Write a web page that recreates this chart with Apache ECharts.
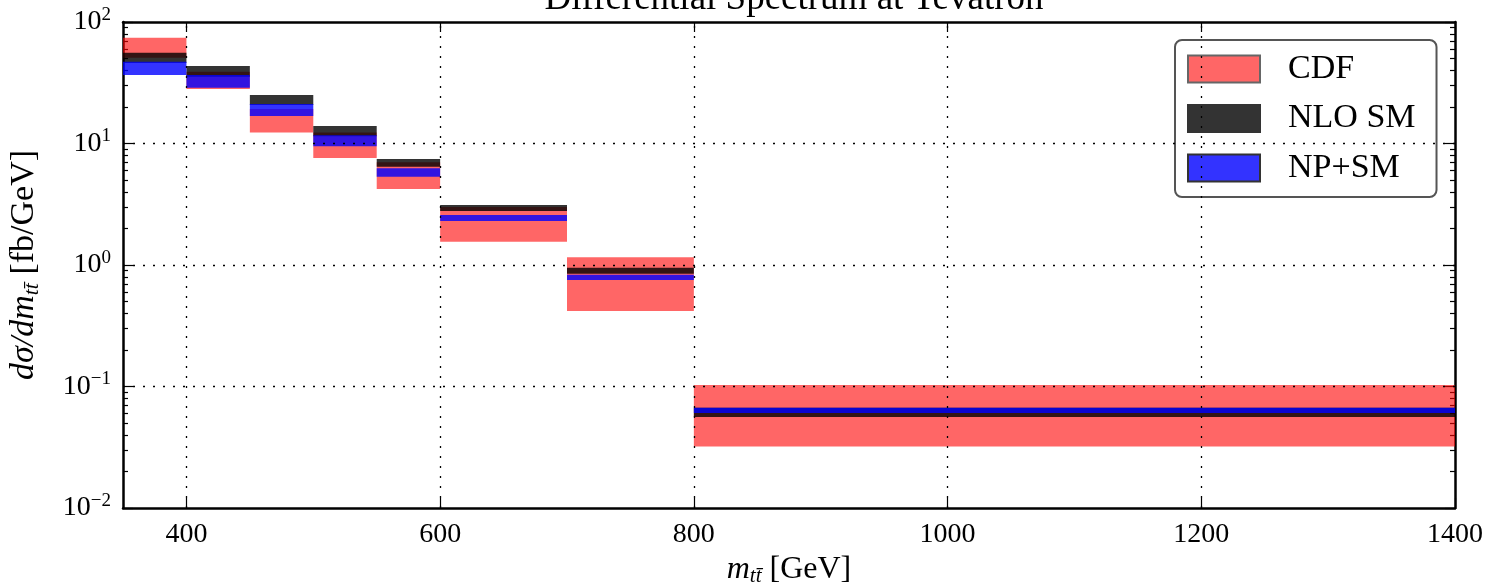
<!DOCTYPE html>
<html>
<head>
<meta charset="utf-8">
<script src="https://cdn.jsdelivr.net/npm/echarts@6/dist/echarts.min.js"></script>
<style>
  html, body { margin: 0; padding: 0; background: #fff; }
  #chart { width: 1495px; height: 583px; }
</style>
</head>
<body>
<div id="chart"></div>
<script>
// bin edges of m_tt [GeV]
const binLo = [350, 400, 450, 500, 550, 600, 700, 800]
const binHi = [400, 450, 500, 550, 600, 700, 800, 1400]

// bands [fb/GeV]
const cdfLo = [50.8, 28.1, 12.3, 7.6, 4.23, 1.55, 0.418, 0.032]
const cdfHi = [74.3, 39.0, 19.2, 12.3, 7.0, 3.0, 1.16, 0.1028]
const nloLo = [46.0, 35.5, 20.7, 11.5, 6.44, 2.78, 0.848, 0.0561]
const nloHi = [55.9, 43.5, 25.1, 13.9, 7.45, 3.12, 0.95, 0.067]
const npLo = [36.6, 28.8, 16.8, 9.5, 5.33, 2.30, 0.753, 0.0605]
const npHi = [47.1, 36.6, 21.1, 11.7, 6.25, 2.58, 0.831, 0.067]

const xTicks = [400, 600, 800, 1000, 1200, 1400]
const yGrid = [0.1, 1, 10]

const FONT = 'Liberation Serif'

// minor tick spots on the log axis (2..9 per decade)
let yMinor = []
for (let e = -2; e < 2; e++) {
  for (let m = 2; m < 10; m++) {
    yMinor.push(+(m * Math.pow(10, e)).toPrecision(3))
  }
}

function bandData(lo, hi) {
  let out = []
  for (let i = 0; i < binLo.length; i++) {
    out.push([binLo[i], binHi[i], lo[i], hi[i]])
  }
  return out
}

function bandRender(fill) {
  return function (params, api) {
    const p0 = api.coord([api.value(0), api.value(3)])
    const p1 = api.coord([api.value(1), api.value(2)])
    return {
      type: 'rect',
      shape: { x: p0[0], y: p0[1], width: p1[0] - p0[0], height: p1[1] - p0[1] },
      style: { fill: fill }
    }
  }
}

function bandSeries(name, lo, hi, fill) {
  return {
    name: name,
    type: 'custom',
    xAxisIndex: 0,
    yAxisIndex: 0,
    renderItem: bandRender(fill),
    encode: { x: [0, 1], y: [2, 3] },
    data: bandData(lo, hi),
    silent: true
  }
}

function supLabel(v) {
  const e = Math.round(Math.log10(v))
  return '{b|10}{s|' + (e < 0 ? '\u2212' + (-e) : e) + '}'
}

const gridDots = { color: '#000', width: 1.3, type: [2, 8] }
const spine = { show: true, lineStyle: { color: '#000', width: 2.5 } }
const nameRich = {
  i: { fontFamily: FONT, fontStyle: 'italic', fontSize: 32 },
  sub: { fontFamily: FONT, fontStyle: 'italic', fontSize: 21, padding: [14, 0, 0, 0] }
}
const yNameRich = {
  i: { fontFamily: FONT, fontStyle: 'italic', fontSize: 34 },
  sub: { fontFamily: FONT, fontStyle: 'italic', fontSize: 22, padding: [15, 0, 0, 0] }
}

const chart = echarts.init(document.getElementById('chart'))

chart.setOption({
  animation: false,
  title: {
    text: 'Differential Spectrum at Tevatron',
    left: 789,
    textAlign: 'center',
    top: -24,
    textStyle: { fontFamily: FONT, fontWeight: 'normal', fontSize: 37, color: '#000' }
  },
  legend: {
    orient: 'vertical',
    left: 1175,
    top: 40,
    padding: [12, 21, 12, 12],
    itemGap: 15.5,
    itemWidth: 72,
    itemHeight: 27,
    icon: 'rect',
    borderColor: '#555',
    borderWidth: 2,
    borderRadius: 7,
    backgroundColor: '#fff',
    textStyle: { fontFamily: FONT, fontSize: 34, color: '#000', padding: [0, 0, 0, 23], lineHeight: 27, height: 27 },
    data: [
      { name: 'CDF', itemStyle: { color: '#ff6666', borderColor: '#666', borderWidth: 2 } },
      { name: 'NLO SM', itemStyle: { color: '#333333', borderColor: '#333', borderWidth: 2 } },
      { name: 'NP+SM', itemStyle: { color: '#3333ff', borderColor: '#333', borderWidth: 2 } }
    ]
  },
  grid: { left: 123, right: 40, top: 22, bottom: 75, outerBoundsMode: 'none' },
  xAxis: [
    {
      type: 'value',
      position: 'bottom',
      min: 350,
      max: 1400,
      name: '{i|m}{sub|tt\u0304} [GeV]',
      nameLocation: 'middle',
      nameGap: 44,
      nameTextStyle: { fontFamily: FONT, fontSize: 32, color: '#000', rich: nameRich },
      axisLine: spine,
      axisTick: { show: true, inside: true, length: 10, customValues: xTicks, lineStyle: { color: '#000', width: 1.2 } },
      axisLabel: { customValues: xTicks, formatter: v => String(v), fontFamily: FONT, fontSize: 28, color: '#000', margin: 13 },
      splitLine: { show: false }
    },
    {
      type: 'value',
      position: 'top',
      min: 350,
      max: 1400,
      axisLine: spine,
      axisTick: { show: true, inside: true, length: 10, customValues: xTicks, lineStyle: { color: '#000', width: 1.2 } },
      axisLabel: { show: false },
      splitLine: { show: false }
    }
  ],
  yAxis: [
    {
      type: 'log',
      logBase: 10,
      position: 'left',
      offset: 0,
      min: 0.01,
      max: 100,
      name: '{i|d\u03c3/dm}{sub|tt\u0304} [fb/GeV]',
      nameLocation: 'middle',
      nameRotate: 90,
      nameGap: 80,
      nameTextStyle: { fontFamily: FONT, fontSize: 34, color: '#000', rich: yNameRich },
      axisLine: spine,
      axisTick: { show: true, inside: true, length: 10, lineStyle: { color: '#000', width: 1.2 } },
      axisLabel: {
        fontFamily: FONT, fontSize: 28, color: '#000', margin: 12,
        formatter: supLabel,
        rich: {
          b: { fontFamily: FONT, fontSize: 28 },
          s: { fontFamily: FONT, fontSize: 19, padding: [0, 0, 14, 0] }
        }
      },
      splitLine: { show: false }
    },
    {
      type: 'log',
      logBase: 10,
      position: 'left',
      offset: 0,
      min: 0.01,
      max: 100,
      axisLine: { show: false },
      axisTick: { show: true, inside: true, length: 5, customValues: yMinor, lineStyle: { color: '#000', width: 1.2 } },
      axisLabel: { show: false },
      splitLine: { show: false }
    },
    {
      type: 'log',
      logBase: 10,
      position: 'right',
      offset: 0,
      min: 0.01,
      max: 100,
      axisLine: spine,
      axisTick: { show: true, inside: true, length: 10, lineStyle: { color: '#000', width: 1.2 } },
      axisLabel: { show: false },
      splitLine: { show: false }
    },
    {
      type: 'log',
      logBase: 10,
      position: 'right',
      offset: 0,
      min: 0.01,
      max: 100,
      axisLine: { show: false },
      axisTick: { show: true, inside: true, length: 5, customValues: yMinor, lineStyle: { color: '#000', width: 1.2 } },
      axisLabel: { show: false },
      splitLine: { show: false }
    }
  ],
  series: [
    bandSeries('CDF', cdfLo, cdfHi, 'rgba(255,0,0,0.6)'),
    bandSeries('NLO SM', nloLo, nloHi, 'rgba(0,0,0,0.8)'),
    bandSeries('NP+SM', npLo, npHi, 'rgba(0,0,255,0.8)'),
    {
      // dotted grid, drawn over the bands like the original
      name: 'grid',
      type: 'custom',
      xAxisIndex: 0,
      yAxisIndex: 0,
      renderItem: function () { return null },
      data: [],
      markLine: {
        silent: true,
        symbol: 'none',
        label: { show: false },
        lineStyle: gridDots,
        data: xTicks.slice(0, -1).map(v => ({ xAxis: v }))
          .concat(yGrid.map(v => ({ yAxis: v })))
      }
    }
  ]
})
</script>
</body>
</html>
